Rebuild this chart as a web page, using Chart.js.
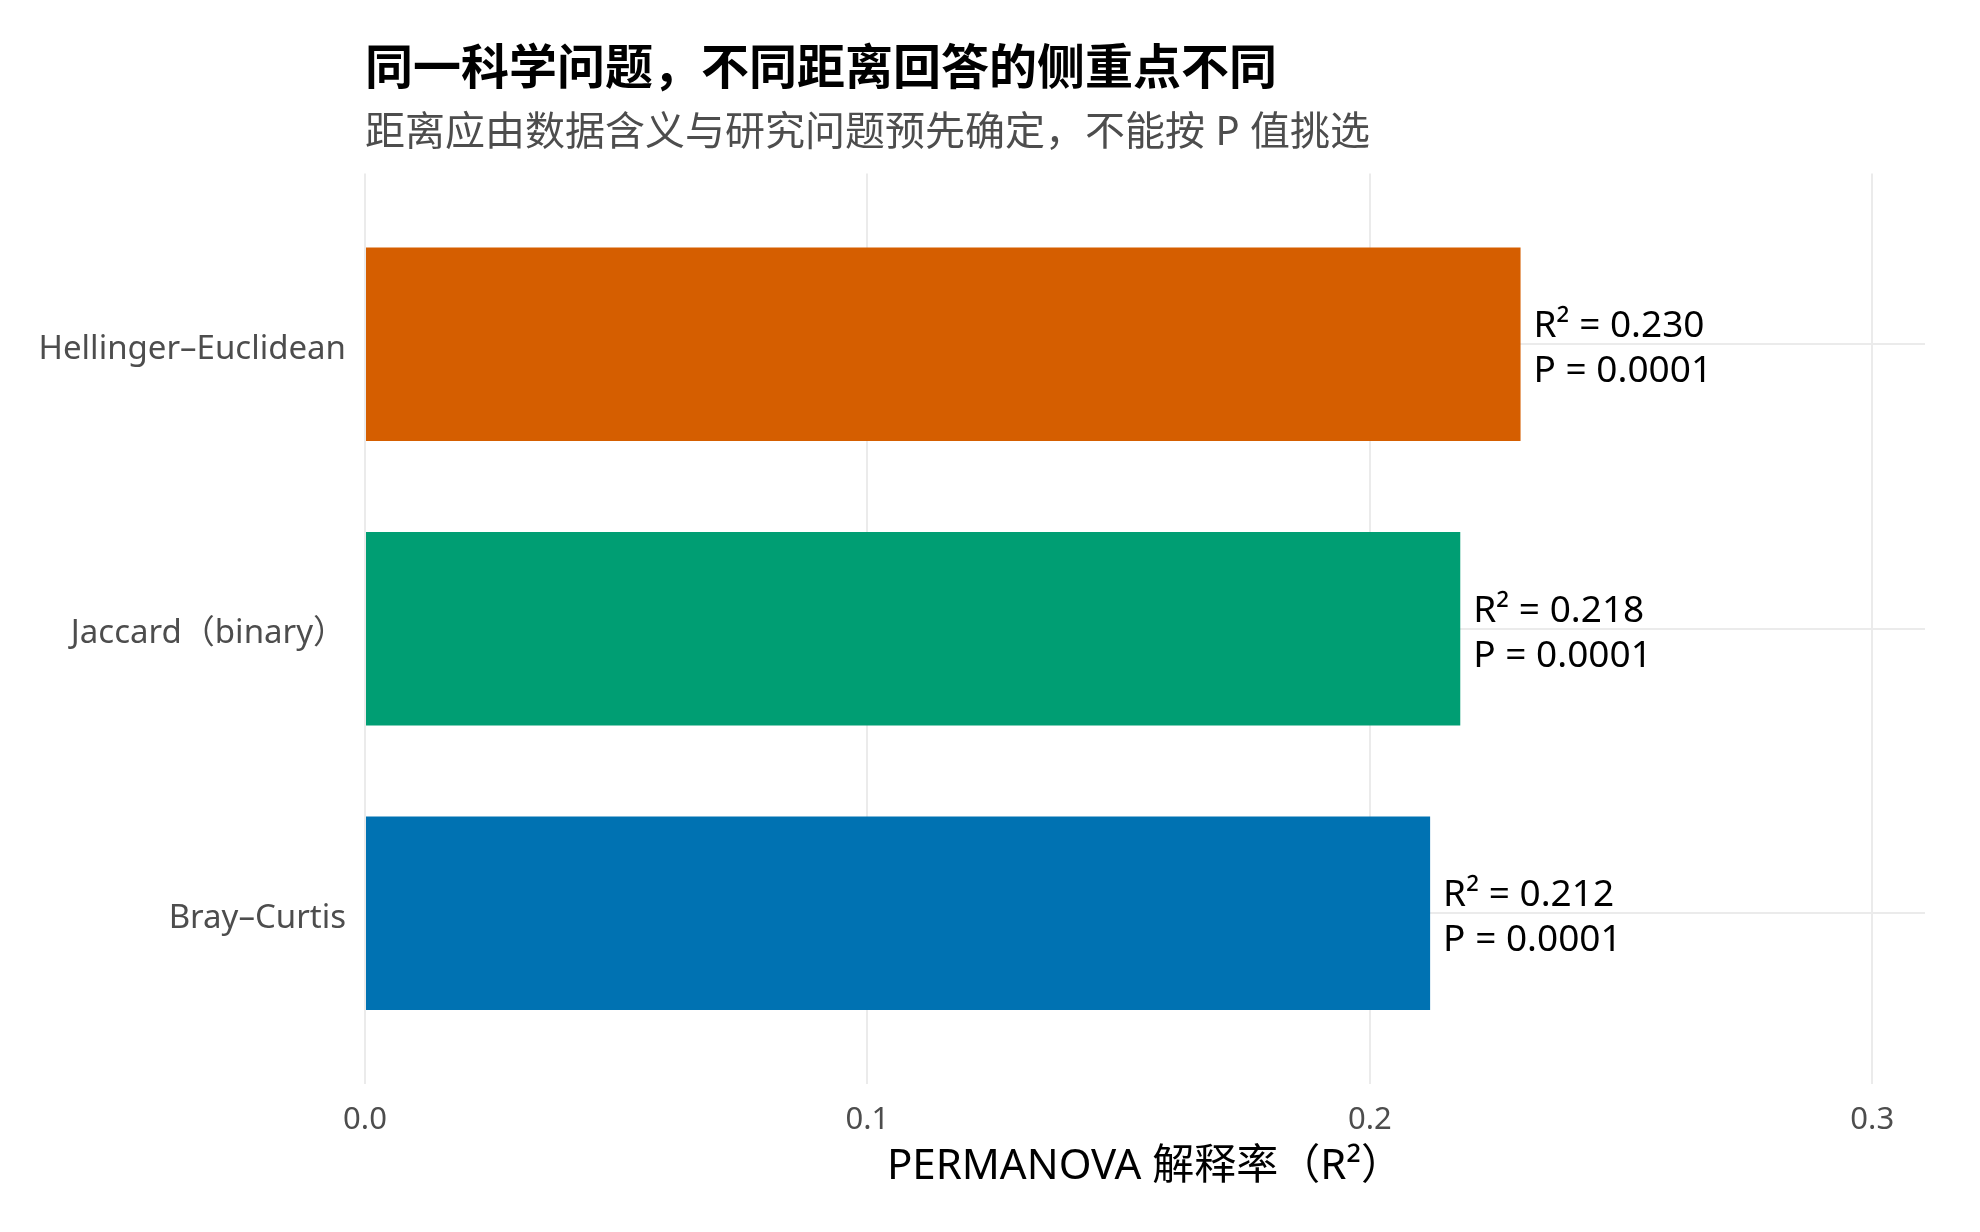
<!DOCTYPE html>
<html>
<head>
<meta charset="utf-8">
<script src="https://cdn.jsdelivr.net/npm/chart.js@4.4.1/dist/chart.umd.min.js"></script>
<style>
  html, body { margin: 0; padding: 0; background: #ffffff; }
  #wrap { width: 1980px; height: 1232px; }
</style>
</head>
<body>
<div id="wrap"><canvas id="chart" width="1980" height="1232"></canvas></div>
<script>
// data (bottom to top, as ggplot draws them)
const distances = ['Bray–Curtis', 'Jaccard（binary）', 'Hellinger–Euclidean'];
const positions = [0, 1, 2];
const r2Values = [0.212, 0.218, 0.230];
const pValues = ['0.0001', '0.0001', '0.0001'];
const barColors = ['#0072B2', '#009E73', '#D55E00'];
const xTicks = [0, 0.1, 0.2, 0.3];

const FONT = '"Noto Sans", "Noto Sans CJK SC", sans-serif';
const GRID = '#ebebeb';

// R² / P text to the right of each bar
const barLabels = {
    id: 'barLabels',
    afterDatasetsDraw(chart) {
        const {ctx, scales: {x, y}} = chart;
        ctx.save();
        ctx.font = '37px ' + FONT;
        ctx.fillStyle = '#000000';
        ctx.textAlign = 'left';
        ctx.textBaseline = 'alphabetic';
        positions.forEach((pos, i) => {
            const px = x.getPixelForValue(r2Values[i]) + 13;
            const py = y.getPixelForValue(pos);
            ctx.fillText('R² = ' + r2Values[i].toFixed(3), px, py - 7);
            ctx.fillText('P = ' + pValues[i], px, py + 38);
        });
        ctx.restore();
    }
};

const data = {
    datasets: [{
        data: positions.map((pos, i) => ({x: r2Values[i], y: pos})),
        backgroundColor: barColors,
        borderWidth: 0,
        categoryPercentage: 1,
        barPercentage: 0.68
    }]
};

const config = {
    type: 'bar',
    data: data,
    options: {
        indexAxis: 'y',
        responsive: false,
        animation: false,
        devicePixelRatio: 1,
        layout: { padding: { left: 0, right: 55, top: 0, bottom: 0 } },
        plugins: {
            legend: { display: false },
            tooltip: { enabled: false },
            title: {
                display: true,
                text: '同一科学问题，不同距离回答的侧重点不同',
                align: 'start',
                fullSize: false,
                color: '#000000',
                font: { family: FONT, size: 48, weight: 'bold' },
                padding: { top: 42, bottom: 10 }
            },
            subtitle: {
                display: true,
                text: '距离应由数据含义与研究问题预先确定，不能按 P 值挑选',
                align: 'start',
                fullSize: false,
                color: '#4d4d4d',
                font: { family: FONT, size: 40 },
                padding: { top: 0, bottom: 16 }
            }
        },
        scales: {
            x: {
                type: 'linear',
                min: 0,
                max: 0.3105,
                afterBuildTicks: s => { s.ticks = xTicks.map(v => ({value: v})); },
                afterFit: s => { s.height = 148; },
                grid: { color: GRID, lineWidth: 2, drawTicks: false },
                border: { display: false },
                ticks: {
                    color: '#4d4d4d',
                    font: { family: FONT, size: 31 },
                    padding: 18,
                    callback: v => v.toFixed(1)
                },
                title: {
                    display: true,
                    text: 'PERMANOVA 解释率（R²）',
                    color: '#000000',
                    font: { family: FONT, size: 42 },
                    padding: { top: 4, bottom: 40 }
                }
            },
            y: {
                type: 'linear',
                min: -0.6,
                max: 2.6,
                offset: false,
                afterBuildTicks: s => { s.ticks = positions.map(v => ({value: v})); },
                afterFit: s => { s.width = 365; },
                grid: { color: GRID, lineWidth: 2, drawTicks: false, offset: false },
                border: { display: false },
                ticks: {
                    color: '#4d4d4d',
                    font: { family: FONT, size: 33 },
                    padding: 19,
                    labelOffset: 5,
                    callback: v => distances[positions.indexOf(v)]
                }
            }
        }
    },
    plugins: [barLabels]
};

const chart = new Chart(document.getElementById('chart'), config);
</script>
</body>
</html>
